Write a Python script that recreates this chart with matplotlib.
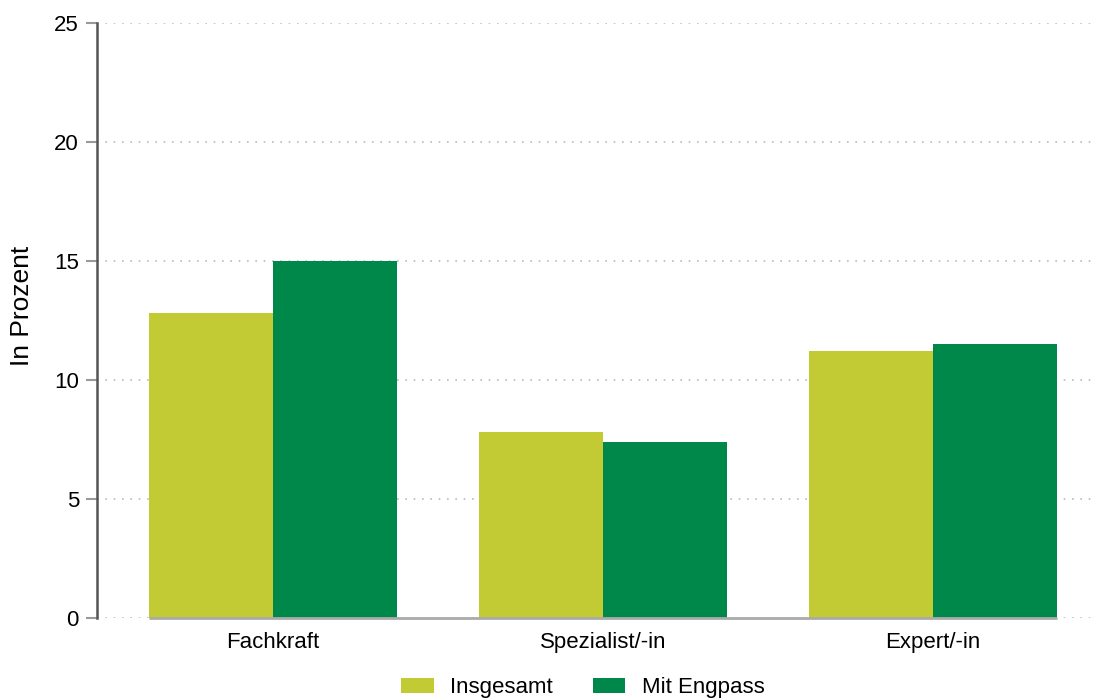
import matplotlib
matplotlib.use("Agg")
import matplotlib.pyplot as plt
import numpy as np
from matplotlib.patches import Patch

categories = ["Fachkraft", "Spezialist/-in", "Expert/-in"]
insgesamt = [12.8, 7.8, 11.2]
mit_engpass = [15.0, 7.4, 11.5]
series_names = ["Insgesamt", "Mit Engpass"]
yticks = [0, 5, 10, 15, 20, 25]

c_light = "#C2CB33"
c_dark = "#00884A"

plt.rcParams["font.family"] = ["Liberation Sans", "DejaVu Sans"]

fig = plt.figure(figsize=(10.94, 6.98), dpi=100)
ax = fig.add_axes([97/1094, (698-618)/698, (1093-97)/1094, (618-23)/698])

x = np.arange(len(categories))
w = 0.376
ax.bar(x - w/2, insgesamt, width=w, color=c_light, zorder=3, linewidth=0)
ax.bar(x + w/2, mit_engpass, width=w, color=c_dark, zorder=3, linewidth=0)

ax.set_xlim(-0.533, 2.485)
ax.set_ylim(0, 25)
ax.set_yticks(yticks)
ax.set_xticks(x)
ax.set_xticklabels(categories, fontsize=16)
ax.tick_params(axis="x", length=0, pad=10)
ax.tick_params(axis="y", length=8, width=1.5, color="#999999", labelsize=16, pad=5)
ax.yaxis.grid(True, linestyle=(0, (1, 4)), color="#bbbbbb", linewidth=1.2, zorder=0)
for s in ["top", "right", "bottom"]:
    ax.spines[s].set_visible(False)
ax.spines["left"].set_color("#555555")
ax.spines["left"].set_linewidth(1.8)
ax.hlines(0, x[0] - w, x[-1] + w, color="#aaaaaa", linewidth=2, zorder=4, clip_on=False)

ax.set_ylabel("In Prozent", fontsize=19)
ax.yaxis.set_label_coords(-0.063, 0.524)

handles = [Patch(facecolor=c_light), Patch(facecolor=c_dark)]
fig.legend(handles, series_names, loc="center", bbox_to_anchor=(583/1094, 10/698),
           ncol=2, frameon=False, fontsize=16, handlelength=1.45, handleheight=0.68,
           columnspacing=1.8, handletextpad=0.75)

fig.savefig("out.png", dpi=100)
